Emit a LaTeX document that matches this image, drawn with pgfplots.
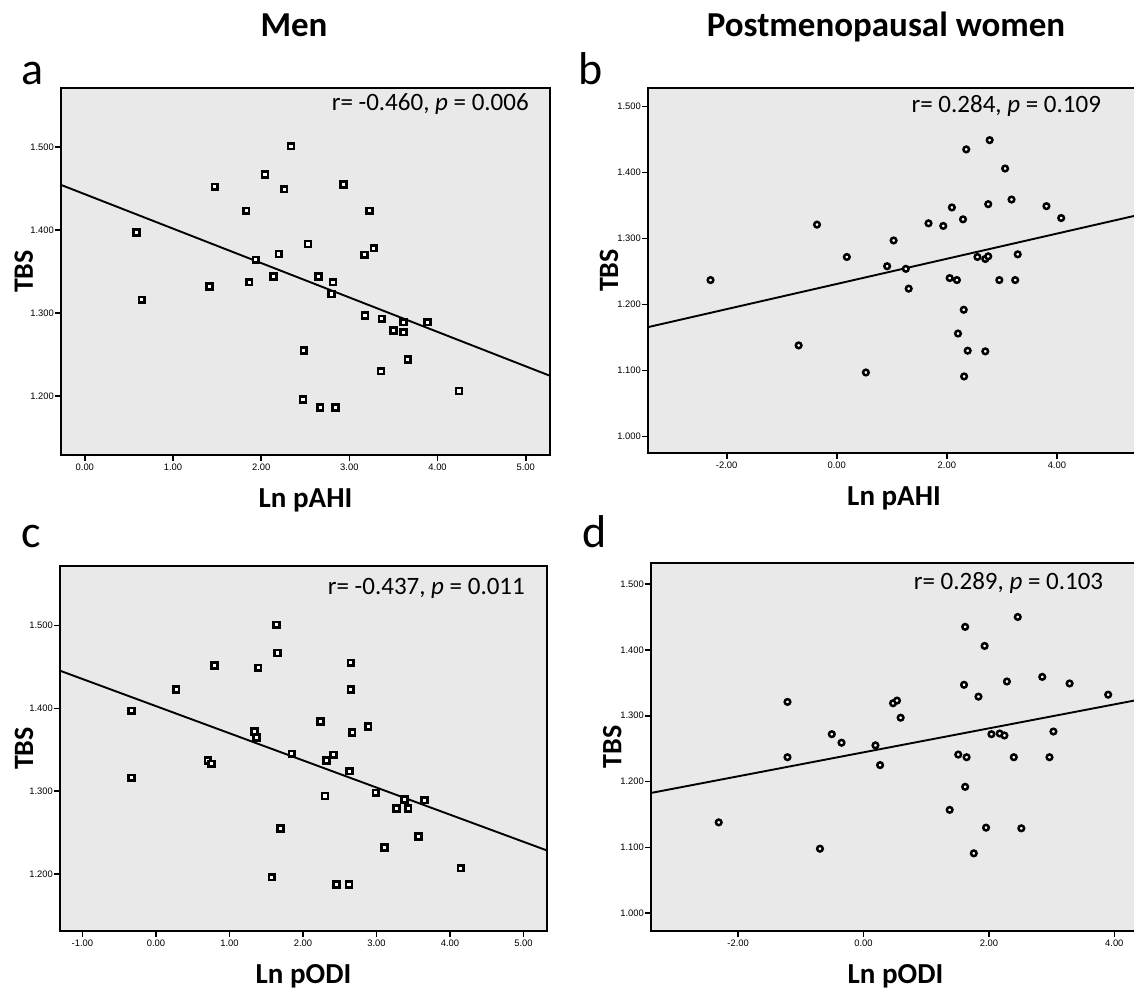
\documentclass[border=0pt]{standalone}
\usepackage{fontspec}
\setmainfont{Carlito}
\newfontfamily\arialf{Liberation Sans}
\usepackage{pgfplots}
\pgfplotsset{compat=1.18}
\definecolor{bgc}{RGB}{233,233,233}

\pgfplotstableread{
x y
0.585 1.397
0.646 1.316
1.413 1.332
1.474 1.452
1.829 1.423
1.865 1.337
1.938 1.364
2.043 1.467
2.140 1.344
2.200 1.371
2.261 1.449
2.337 1.501
2.531 1.383
2.483 1.255
2.475 1.196
2.652 1.344
2.669 1.186
2.814 1.337
2.798 1.323
2.842 1.186
2.935 1.455
3.173 1.370
3.177 1.297
3.230 1.423
3.278 1.378
3.367 1.293
3.359 1.230
3.500 1.279
3.613 1.289
3.613 1.277
3.662 1.244
3.884 1.289
4.243 1.206
}\dataA

\pgfplotstableread{
x y
-2.294 1.237
-0.693 1.138
-0.359 1.321
0.183 1.272
0.529 1.097
0.915 1.258
1.033 1.297
1.255 1.254
1.307 1.224
1.667 1.323
1.935 1.319
2.092 1.347
2.052 1.240
2.183 1.237
2.294 1.329
2.307 1.192
2.203 1.156
2.353 1.435
2.379 1.130
2.314 1.091
2.556 1.272
2.699 1.269
2.752 1.273
2.752 1.352
2.778 1.449
2.699 1.129
2.954 1.237
3.059 1.406
3.176 1.359
3.242 1.237
3.288 1.276
3.810 1.349
4.078 1.331
}\dataB

\pgfplotstableread{
x y
-0.335 1.397
-0.335 1.316
0.277 1.423
0.705 1.337
0.758 1.333
0.797 1.452
1.342 1.372
1.366 1.365
1.390 1.449
1.638 1.501
1.653 1.467
1.575 1.196
1.697 1.255
1.847 1.345
2.241 1.384
2.300 1.294
2.319 1.337
2.416 1.344
2.455 1.187
2.625 1.187
2.635 1.324
2.650 1.455
2.650 1.423
2.669 1.371
2.888 1.378
2.990 1.298
3.111 1.232
3.272 1.279
3.379 1.290
3.432 1.279
3.651 1.289
3.573 1.245
4.147 1.207
}\dataC

\pgfplotstableread{
x y
-2.310 1.138
-1.213 1.321
-1.213 1.237
-0.695 1.098
-0.506 1.272
-0.351 1.259
0.190 1.255
0.264 1.225
0.471 1.319
0.534 1.323
0.592 1.297
1.374 1.157
1.511 1.241
1.621 1.435
1.603 1.347
1.621 1.192
1.644 1.237
1.759 1.091
1.833 1.329
1.931 1.406
1.954 1.130
2.040 1.272
2.172 1.273
2.247 1.270
2.287 1.352
2.397 1.237
2.460 1.450
2.517 1.129
2.851 1.359
2.966 1.237
3.029 1.276
3.287 1.349
3.902 1.332
}\dataD

\pgfplotsset{
  spss/.style={
    scale only axis,
    anchor=south west,
    axis background/.style={fill=bgc},
    axis line style={line width=1.4pt},
    tick pos=left,
    tick align=outside,
    major tick length=2.8pt,
    every tick/.style={black, line width=0.8pt},
    tick label style={font=\arialf\fontsize{4.7}{5}\selectfont},
    /pgf/number format/assume math mode=true,
    scaled ticks=false,
    xticklabel style={/pgf/number format/fixed, /pgf/number format/fixed zerofill, /pgf/number format/precision=2, inner sep=1.5pt},
    yticklabel style={/pgf/number format/fixed, /pgf/number format/fixed zerofill, /pgf/number format/precision=3, inner sep=0.6pt},
    xlabel style={font=\bfseries\fontsize{14.5}{16}\selectfont, at={(axis description cs:0.5,-0.123)}, anchor=center},
    ylabel style={font=\bfseries\fontsize{14}{16}\selectfont, anchor=center},
    ylabel={TBS},
    clip=true,
  },
  sq/.style={only marks, mark=square*, mark size=1.45pt, mark options={fill=white, draw=black, line width=1.3pt}},
  ci/.style={only marks, mark=*, mark size=1.4pt, mark options={fill=white, draw=black, line width=1.25pt}},
  reg/.style={black, line width=0.95pt, no marks},
}

\begin{document}
\begin{tikzpicture}
\useasboundingbox (0,0) rectangle (567pt,496pt);

% Panel a
\begin{axis}[spss, at={(30.5pt,268.5pt)}, width=244.5pt, height=183.5pt,
  xmin=-0.27, xmax=5.275, ymin=1.129, ymax=1.571,
  xtick={0,1,2,3,4,5}, ytick={1.2,1.3,1.4,1.5},
  xlabel={Ln pAHI},
  ylabel style={at={(axis description cs:-0.076,0.5)}}]
\addplot[sq] table {\dataA};
\addplot[reg] coordinates {(-0.27,1.4543) (5.275,1.2244)};
\node[anchor=base east, font=\fontsize{12.5}{14}\selectfont] at (axis description cs:0.971,0.940) {r= -0.460, \textit{p} = 0.006};
\end{axis}

% Panel b
\begin{axis}[spss, at={(324pt,269.5pt)}, width=246pt, height=182.5pt,
  xmin=-3.43, xmax=5.51, ymin=0.975, ymax=1.528,
  xtick={-2,0,2,4}, ytick={1.0,1.1,1.2,1.3,1.4,1.5},
  xlabel={Ln pAHI},
  ylabel style={at={(axis description cs:-0.079,0.5)}}]
\addplot[ci] table {\dataB};
\addplot[reg] coordinates {(-3.43,1.1657) (5.51,1.3362)};
\node[anchor=base east, font=\fontsize{12.5}{14}\selectfont] at (axis description cs:0.935,0.934) {r= 0.284, \textit{p} = 0.109};
\end{axis}

% Panel c
\begin{axis}[spss, at={(30pt,30.5pt)}, width=243.5pt, height=182.5pt,
  xmin=-1.305, xmax=5.32, ymin=1.131, ymax=1.572,
  xtick={-1,0,1,2,3,4,5}, ytick={1.2,1.3,1.4,1.5},
  xlabel={Ln pODI},
  ylabel style={at={(axis description cs:-0.074,0.5)}}]
\addplot[sq] table {\dataC};
\addplot[reg] coordinates {(-1.305,1.4455) (5.32,1.2283)};
\node[anchor=base east, font=\fontsize{12.5}{14}\selectfont] at (axis description cs:0.969,0.921) {r= -0.437, \textit{p} = 0.011};
\end{axis}

% Panel d
\begin{axis}[spss, at={(325.5pt,30.5pt)}, width=244.5pt, height=184pt,
  xmin=-3.39, xmax=4.41, ymin=0.973, ymax=1.532,
  xtick={-2,0,2,4}, ytick={1.0,1.1,1.2,1.3,1.4,1.5},
  xlabel={Ln pODI},
  ylabel style={at={(axis description cs:-0.079,0.5)}}]
\addplot[ci] table {\dataD};
\addplot[reg] coordinates {(-3.39,1.1827) (4.41,1.3247)};
\node[anchor=base east, font=\fontsize{12.5}{14}\selectfont] at (axis description cs:0.939,0.927) {r= 0.289, \textit{p} = 0.103};
\end{axis}

% Titles and panel letters
\node[anchor=base, font=\bfseries\fontsize{17.5}{20}\selectfont] at (147pt,477.5pt) {Men};
\node[anchor=base, font=\bfseries\fontsize{17.5}{20}\selectfont] at (443pt,477.5pt) {Postmenopausal women};
\node[anchor=base west, inner sep=0pt, font=\fontsize{23}{25}\selectfont] at (10.5pt,453.5pt) {a};
\node[anchor=base west, inner sep=0pt, font=\fontsize{23}{25}\selectfont] at (289pt,453.5pt) {b};
\node[anchor=base west, inner sep=0pt, font=\fontsize{23}{25}\selectfont] at (10.5pt,222.5pt) {c};
\node[anchor=base west, inner sep=0pt, font=\fontsize{23}{25}\selectfont] at (291pt,222.5pt) {d};
\end{tikzpicture}
\end{document}
